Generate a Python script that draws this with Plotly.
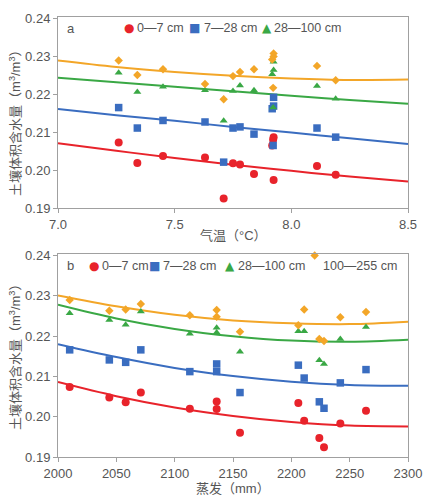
import plotly.graph_objects as go

# ---------------- data: panel a (air temperature) ----------------
temp_a = [7.26, 7.34, 7.45, 7.63, 7.71, 7.75, 7.78, 7.84, 7.918, 7.922, 7.924, 7.924, 8.11, 8.19]
red_a = [0.2073, 0.2019, 0.2037, 0.2033, 0.1925, 0.2018, 0.2015, 0.1990, 0.2065, 0.2080, 0.2087, 0.1974, 0.2011, 0.1988]
blue_a = [0.2165, 0.2111, 0.2131, 0.2127, 0.2021, 0.2111, 0.2114, 0.2095, 0.2162, 0.2065, 0.2169, 0.2192, 0.2111, 0.2087]
green_a = [0.2257, 0.2206, 0.2220, 0.2211, 0.2130, 0.2209, 0.2223, 0.2211, 0.2253, 0.2165, 0.2264, 0.2286, 0.2222, 0.2188]
orange_a = [0.2289, 0.2251, 0.2266, 0.2227, 0.2187, 0.2248, 0.2259, 0.2266, 0.2292, 0.2217, 0.2300, 0.2308, 0.2275, 0.2237]

fit_x_a = [7.0, 7.25, 7.5, 7.75, 8.0, 8.25, 8.5]
fit_red_a = [0.2071, 0.2051, 0.2032, 0.2014, 0.1998, 0.1983, 0.1970]
fit_blue_a = [0.2161, 0.2145, 0.2130, 0.2114, 0.2099, 0.2084, 0.2069]
fit_green_a = [0.2244, 0.2232, 0.2220, 0.2208, 0.2196, 0.2185, 0.2175]
fit_orange_a = [0.2289, 0.2272, 0.2259, 0.2249, 0.2242, 0.2238, 0.2239]

# ---------------- data: panel b (evaporation) ----------------
evap_b = [2010, 2044, 2058, 2071, 2113, 2136, 2136, 2156, 2206, 2211, 2224, 2228, 2242, 2264]
red_b = [0.2074, 0.2048, 0.2036, 0.2060, 0.2020, 0.2038, 0.2019, 0.1960, 0.2034, 0.1990, 0.1947, 0.1924, 0.1983, 0.2015]
blue_b = [0.2166, 0.2141, 0.2135, 0.2166, 0.2112, 0.2131, 0.2112, 0.2060, 0.2128, 0.2096, 0.2037, 0.2021, 0.2084, 0.2117]
green_b = [0.2257, 0.2240, 0.2228, 0.2261, 0.2206, 0.2221, 0.2209, 0.2161, 0.2212, 0.2212, 0.2140, 0.2131, 0.2193, 0.2223]
orange_b = [0.2290, 0.2263, 0.2266, 0.2280, 0.2252, 0.2265, 0.2248, 0.2211, 0.2227, 0.2266, 0.2193, 0.2188, 0.2247, 0.2260]
orange_extra_x_b = [2220]
orange_extra_y_b = [0.2400]

fit_x_b = [2000, 2050, 2100, 2150, 2200, 2250, 2300]
fit_red_b = [0.2086, 0.2051, 0.2023, 0.2002, 0.1987, 0.1978, 0.1976]
fit_blue_b = [0.2180, 0.2148, 0.2121, 0.2101, 0.2087, 0.2079, 0.2077]
fit_green_b = [0.2278, 0.2244, 0.2218, 0.2200, 0.2189, 0.2186, 0.2191]
fit_orange_b = [0.2301, 0.2274, 0.2253, 0.2239, 0.2232, 0.2230, 0.2236]

series_labels = ["0—7 cm", "7—28 cm", "28—100 cm", "100—255 cm"]
y_ticks = [0.19, 0.20, 0.21, 0.22, 0.23, 0.24]
x_ticks_a = [7.0, 7.5, 8.0, 8.5]
x_ticks_b = [2000, 2050, 2100, 2150, 2200, 2250, 2300]

RED, BLUE, GREEN, ORANGE = "#e8232b", "#3a6dc0", "#3aa845", "#f3a628"
symbols = ["circle", "square", "triangle-up", "diamond"]
sizes = [8, 7.5, 7, 6.5]
colors = [RED, BLUE, GREEN, ORANGE]

fig = go.Figure()

def add_panel(xv, ys, fx, fys, xa, ya):
    for fy, c in zip(fys, colors):
        fig.add_trace(go.Scatter(x=fx, y=fy, mode="lines", line=dict(color=c, width=2, shape="spline"),
                                 xaxis=xa, yaxis=ya, showlegend=False, hoverinfo="skip"))
    for yv, c, s, sz in zip(ys, colors, symbols, sizes):
        fig.add_trace(go.Scatter(x=xv, y=yv, mode="markers",
                                 marker=dict(symbol=s, size=sz, color=c, line=dict(width=0)),
                                 xaxis=xa, yaxis=ya, showlegend=False, cliponaxis=False))

add_panel(temp_a, [red_a, blue_a, green_a, orange_a], fit_x_a,
          [fit_red_a, fit_blue_a, fit_green_a, fit_orange_a], "x", "y")
add_panel(evap_b, [red_b, blue_b, green_b, orange_b], fit_x_b,
          [fit_red_b, fit_blue_b, fit_green_b, fit_orange_b], "x2", "y2")
fig.add_trace(go.Scatter(x=orange_extra_x_b, y=orange_extra_y_b, mode="markers",
                         marker=dict(symbol="diamond", size=6.5, color=ORANGE),
                         xaxis="x2", yaxis="y2", showlegend=False, cliponaxis=False))

FONT = "Liberation Sans, Arial, Noto Sans CJK SC, sans-serif"
AX = "#a0a0a0"
TXT = "#555555"
ytitle = "土壤体积含水量（m<sup>3</sup>/m<sup>3</sup>）"

axis_common = dict(showgrid=False, zeroline=False, showline=True, linecolor=AX, linewidth=1,
                   mirror=True, ticks="outside", ticklen=4, tickcolor=AX, automargin=False,
                   tickfont=dict(size=13, color=TXT, family=FONT))

fig.update_layout(
    width=429, height=500,
    margin=dict(l=58, r=21, t=17, b=43),
    paper_bgcolor="white", plot_bgcolor="white",
    font=dict(family=FONT, color=TXT, size=13),
    xaxis=dict(axis_common, range=[7.0, 8.5], tickvals=x_ticks_a, tickformat=".1f", anchor="y"),
    yaxis=dict(axis_common, range=[0.19, 0.2404], tickvals=y_ticks, tickformat=".2f",
               domain=[0.5659, 1.0], anchor="x"),
    xaxis2=dict(axis_common, range=[2000, 2300], tickvals=x_ticks_b, anchor="y2"),
    yaxis2=dict(axis_common, range=[0.19, 0.2404], tickvals=y_ticks, tickformat=".2f",
                domain=[0.0, 0.4614], anchor="x2"),
)

# axis titles as annotations
title_font = dict(size=13, color=TXT, family=FONT)
fig.add_annotation(x=0.5, y=0.5023, xref="paper", yref="paper", text="气温（°C）", showarrow=False,
                   xanchor="center", yanchor="middle", font=title_font)
fig.add_annotation(x=0.5, y=-0.0705, xref="paper", yref="paper", text="蒸发（mm）", showarrow=False,
                   xanchor="center", yanchor="middle", font=title_font)
fig.add_annotation(x=-0.1229, y=0.766, xref="paper", yref="paper", text=ytitle, showarrow=False,
                   textangle=-90, xanchor="center", yanchor="middle", font=title_font)
fig.add_annotation(x=-0.1229, y=0.234, xref="paper", yref="paper", text=ytitle, showarrow=False,
                   textangle=-90, xanchor="center", yanchor="middle", font=title_font)

# manual legends (marker glyph + text)
GLYPH_FONT = "DejaVu Sans"
glyphs = ["●", "■", "▲"]
glyph_sizes = [12, 12, 12]

def legend_row(yp, letter, letter_x, marker_xs, text_xs, labels):
    fig.add_annotation(x=letter_x, y=yp, xref="paper", yref="paper", text=letter, showarrow=False,
                       xanchor="left", yanchor="middle", font=dict(size=13, color=TXT, family=FONT))
    for g, gs, c, mx in zip(glyphs, glyph_sizes, colors, marker_xs):
        fig.add_annotation(x=mx, y=yp, xref="paper", yref="paper", text=g, showarrow=False,
                           xanchor="center", yanchor="middle",
                           font=dict(size=gs, color=c, family=GLYPH_FONT))
    for lab, tx in zip(labels, text_xs):
        fig.add_annotation(x=tx, y=yp, xref="paper", yref="paper", text=lab, showarrow=False,
                           xanchor="left", yanchor="middle", font=dict(size=12.5, color=TXT, family=FONT))

legend_row(0.9739, "a", 0.020, [0.2029, 0.3886, 0.5971], [0.2200, 0.4114, 0.6114], series_labels[:3])
legend_row(0.4341, "b", 0.020, [0.1029, 0.2771, 0.4914], [0.1200, 0.2943, 0.5086, 0.7514], series_labels)

fig.write_html("out.html", post_script="document.body.style.margin='0';",
               config={"displayModeBar": False})
